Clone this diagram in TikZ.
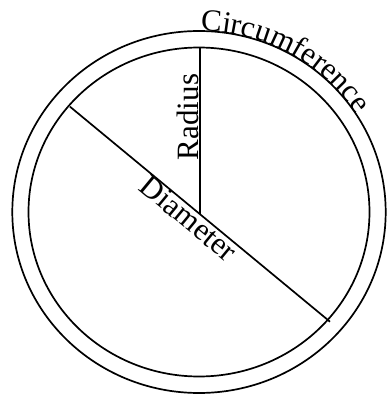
\documentclass[tikz,border=0pt]{standalone}
\usepackage{fontspec}
\setmainfont{Liberation Serif}
\usetikzlibrary{decorations.text,calc}
\newcommand{\lblfont}{\fontsize{31}{36}\selectfont}
\begin{document}
\begin{tikzpicture}[x=1pt,y=1pt,
  ring/.style={line width=1.7pt},
  seg/.style={line width=1.7pt},
  lbl/.style={font=\lblfont, inner sep=0pt, outer sep=0pt}]
\useasboundingbox (0,0) rectangle (388,400);
\coordinate (c0) at (199,188);
% rings
\draw[ring] (c0) ellipse [x radius=186.7, y radius=181];
\draw[ring] (c0) ellipse [x radius=170.5, y radius=164.5];
% diameter and radius
\coordinate (dA) at (70,293.3);
\coordinate (dB) at (330,78.3);
\coordinate (rTop) at (200,352);
\coordinate (rMid) at (200,185.8);
\draw[seg] (dA) -- (dB);
\draw[seg] (rTop) -- (rMid);
% labels
\node[lbl, rotate=90, anchor=base] (radius) at (198.5,283) {Radius};
\node[lbl, rotate=-39.6, anchor=north] (diam) at (195.5,189.7) {Diameter};
\path[decorate, decoration={text along path, text align=left,
  text={|\lblfont|Circumference}}]
  ($(c0)+(89.5:186.7 and 181)$) arc [start angle=89.5, end angle=5, x radius=186.7, y radius=181];
\end{tikzpicture}
\end{document}
